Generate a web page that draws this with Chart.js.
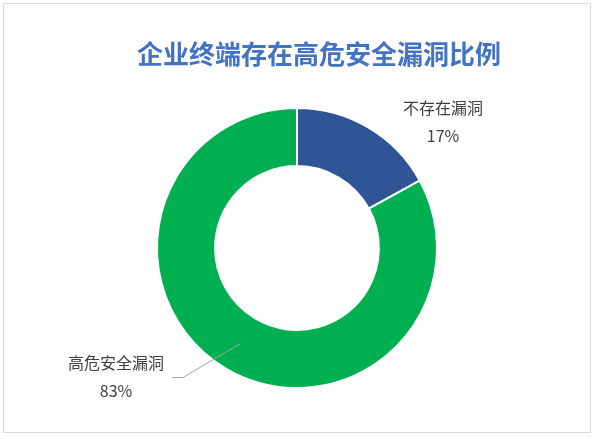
<!DOCTYPE html>
<html>
<head>
<meta charset="utf-8">
<script src="https://cdn.jsdelivr.net/npm/chart.js@4/dist/chart.umd.min.js"></script>
<style>
  html, body { margin: 0; padding: 0; background: #fff; }
  #wrap { position: relative; width: 596px; height: 439px; }
</style>
</head>
<body>
<div id="wrap"><canvas id="pie"></canvas></div>
<script>
const chartTitle = '企业终端存在高危安全漏洞比例';
const categories = ['不存在漏洞', '高危安全漏洞'];
const shares = [17, 83];
const sliceColors = ['#2F5597', '#00B050'];

// where each label block sits, relative to the doughnut centre
const labelPlacement = [
    { dx: 146, dy: -140, leader: false },
    { dx: -181, dy: 115, leader: true, elbow: { dx: -114, dy: 129 }, end: { dx: -125, dy: 129 } }
];

const framePlugin = {
    id: 'frame',
    beforeDraw(chart) {
        const ctx = chart.ctx;
        ctx.save();
        ctx.fillStyle = '#fff';
        ctx.fillRect(0, 0, chart.width, chart.height);
        ctx.strokeStyle = '#D9D9D9';
        ctx.lineWidth = 1;
        ctx.strokeRect(3.5, 3.5, 587, 429);
        ctx.restore();
    },
    afterDraw(chart) {
        const ctx = chart.ctx;
        const meta = chart.getDatasetMeta(0);
        const total = shares.reduce((a, b) => a + b, 0);
        ctx.save();

        // title
        ctx.fillStyle = '#4472C4';
        ctx.font = 'bold 26px "Noto Sans CJK SC", sans-serif';
        ctx.textAlign = 'center';
        ctx.textBaseline = 'middle';
        ctx.fillText(chartTitle, 319, 54);

        meta.data.forEach((arc, i) => {
            const p = arc.getProps(['x', 'y', 'startAngle', 'endAngle', 'innerRadius', 'outerRadius'], true);
            const place = labelPlacement[i];
            const lx = p.x + place.dx;
            const ly = p.y + place.dy;

            if (place.leader) {
                const mid = (p.startAngle + p.endAngle) / 2;
                const r = (p.innerRadius + p.outerRadius) / 2;
                ctx.strokeStyle = '#A6A6A6';
                ctx.lineWidth = 1;
                ctx.beginPath();
                ctx.moveTo(p.x + Math.cos(mid) * r, p.y + Math.sin(mid) * r);
                ctx.lineTo(p.x + place.elbow.dx, p.y + place.elbow.dy + 0.5);
                ctx.lineTo(p.x + place.end.dx, p.y + place.end.dy + 0.5);
                ctx.stroke();
            }

            ctx.fillStyle = '#404040';
            ctx.font = '16px "Noto Sans CJK SC", sans-serif';
            ctx.textAlign = 'center';
            ctx.textBaseline = 'middle';
            ctx.fillText(categories[i], lx, ly);
            ctx.fillText(Math.round(shares[i] / total * 100) + '%', lx, ly + 28);
        });
        ctx.restore();
    }
};

window.onload = () => {
    const ctx = document.getElementById('pie').getContext('2d');
    new Chart(ctx, {
        type: 'doughnut',
        data: {
            labels: categories,
            datasets: [{
                data: shares,
                backgroundColor: sliceColors,
                borderColor: '#ffffff',
                borderWidth: 2,
                hoverOffset: 0
            }]
        },
        options: {
            responsive: true,
            maintainAspectRatio: false,
            animation: false,
            cutout: '58.5%',
            layout: { padding: { top: 107, bottom: 50, left: 50, right: 52 } },
            plugins: {
                legend: { display: false },
                title: { display: false },
                tooltip: { enabled: false }
            }
        },
        plugins: [framePlugin]
    });
};
</script>
</body>
</html>
